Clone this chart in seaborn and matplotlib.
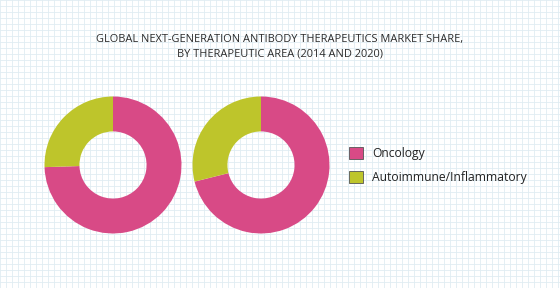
import matplotlib
matplotlib.use("Agg")
import matplotlib.pyplot as plt
import seaborn as sns
from matplotlib.patches import Patch

categories = ["Oncology", "Autoimmune/Inflammatory"]
share_2014 = [74.5, 25.5]
share_2020 = [71.1, 28.9]
colors = ["#D84A86", "#BEC52B"]
title = "GLOBAL NEXT-GENERATION ANTIBODY THERAPEUTICS MARKET SHARE,\nBY THERAPEUTIC AREA (2014 AND 2020)"

sns.set_theme(style="white")
plt.rcParams["font.family"] = ["Open Sans", "DejaVu Sans"]

W, H = 560, 288
fig = plt.figure(figsize=(W / 100, H / 100), dpi=100)
fig.patch.set_facecolor("white")

# graph-paper background
bg = fig.add_axes([0, 0, 1, 1])
bg.set_xlim(0, W)
bg.set_ylim(H, 0)
bg.axis("off")
for x in range(0, W + 1, 6):
    bg.axvline(x, color="#e0edf2", lw=0.6, zorder=0)
for y in range(0, H + 1, 6):
    bg.axhline(y, color="#e0edf2", lw=0.6, zorder=0)

fig.text(280 / W, 1 - 47 / H, title, ha="center", va="center",
         fontsize=7.9, color="#2a2a2a", linespacing=1.5)

def donut(cx, cy, vals):
    s = 70
    ax = fig.add_axes([(cx - s) / W, (H - cy - s) / H, 2 * s / W, 2 * s / H])
    ax.pie(vals, colors=colors, startangle=90, counterclock=False,
           radius=68.5 / s, wedgeprops=dict(width=0.51 * 68.5 / s, linewidth=0))
    ax.set_xlim(-1, 1)
    ax.set_ylim(-1, 1)
    ax.set_aspect("equal")
    ax.axis("off")

donut(113, 165, share_2014)
donut(261, 165, share_2020)

handles = [Patch(facecolor=c, edgecolor="#555555", linewidth=0.6) for c in colors]
fig.legend(handles, categories, loc="upper left", bbox_to_anchor=(338 / W, 1 - 136 / H),
           frameon=False, fontsize=8.7, handlelength=1.15, handleheight=1.15,
           handletextpad=0.75, labelspacing=0.9, labelcolor="#222222")

fig.savefig("out.png", dpi=100, facecolor="white")
